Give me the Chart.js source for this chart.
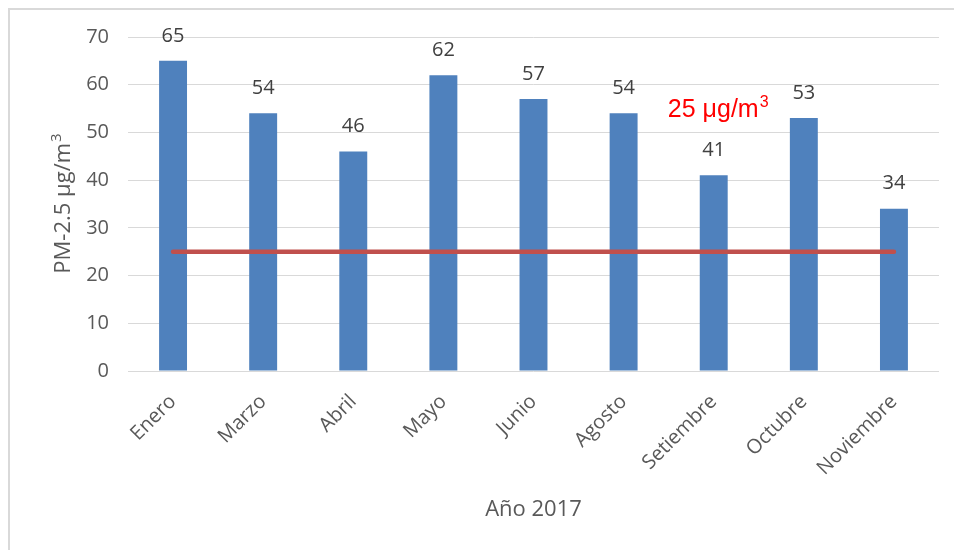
<!DOCTYPE html>
<html>
<head>
<meta charset="utf-8">
<script src="https://cdn.jsdelivr.net/npm/chart.js@4.4.1/dist/chart.umd.min.js"></script>
<style>
  html, body { margin: 0; padding: 0; background: #ffffff; }
  #wrap { width: 954px; height: 550px; position: relative; }
</style>
</head>
<body>
<div id="wrap"><canvas id="c" width="954" height="550"></canvas></div>
<script>
// Monthly PM-2.5 readings, 2017
const months = ['Enero', 'Marzo', 'Abril', 'Mayo', 'Junio', 'Agosto', 'Setiembre', 'Octubre', 'Noviembre'];
const pm25 = [65, 54, 46, 62, 57, 54, 41, 53, 34];
// Reference limit line
const limitValue = 25;
const limitSeries = months.map(() => limitValue);
const limitLabel = ['25 μg/m', '3'];
const limitLabelAnchor = { category: 'Setiembre', value: 55 };
const yTitle = ['PM-2.5 μg/m', '3'];
const xTitle = 'Año 2017';
const yTicks = { min: 0, max: 70, step: 10 };

const tickFont = { family: 'Open Sans', size: 20 };
const textColor = '#595959';

// Draws "base" followed by a raised "sup", centred on (0, 0) of the current transform
function drawWithSup(ctx, base, sup, font, supFont, rise) {
  ctx.font = font;
  const wb = ctx.measureText(base).width;
  ctx.font = supFont;
  const ws = ctx.measureText(sup).width;
  const start = -(wb + ws) / 2;
  ctx.textAlign = 'left';
  ctx.textBaseline = 'alphabetic';
  ctx.font = font;
  ctx.fillText(base, start, 0);
  ctx.font = supFont;
  ctx.fillText(sup, start + wb + 1, -rise);
}

// Light frame around the figure
const framePlugin = {
  id: 'frame',
  beforeDraw(chart) {
    const ctx = chart.ctx;
    ctx.save();
    ctx.fillStyle = '#ffffff';
    ctx.fillRect(0, 0, chart.width, chart.height);
    ctx.strokeStyle = '#D9D9D9';
    ctx.lineWidth = 2;
    ctx.beginPath();
    ctx.moveTo(9, chart.height);
    ctx.lineTo(9, 9);
    ctx.lineTo(chart.width, 9);
    ctx.stroke();
    ctx.restore();
  }
};

// Value labels above each bar, the limit annotation and the y-axis title
const labelPlugin = {
  id: 'valueLabels',
  afterDatasetsDraw(chart) {
    const ctx = chart.ctx;
    const xs = chart.scales.x, ys = chart.scales.y;
    ctx.save();
    const meta = chart.getDatasetMeta(1);
    ctx.font = '20px "Open Sans"';
    ctx.fillStyle = '#404040';
    ctx.textAlign = 'center';
    ctx.textBaseline = 'middle';
    meta.data.forEach((el, i) => {
      ctx.fillText(String(pm25[i]), el.x, el.y - 25);
    });

    // limit annotation
    ctx.save();
    ctx.fillStyle = '#FF0000';
    ctx.translate(xs.getPixelForValue(months.indexOf(limitLabelAnchor.category)) + 4,
                  ys.getPixelForValue(limitLabelAnchor.value) + 8);
    drawWithSup(ctx, limitLabel[0], limitLabel[1], '25px "Liberation Sans"', '16px "Liberation Sans"', 10);
    ctx.restore();

    // y-axis title
    ctx.save();
    ctx.fillStyle = textColor;
    ctx.translate(70, (chart.chartArea.top + chart.chartArea.bottom) / 2);
    ctx.rotate(-Math.PI / 2);
    drawWithSup(ctx, yTitle[0], yTitle[1], '22px "Open Sans"', '15px "Open Sans"', 9);
    ctx.restore();
    ctx.restore();
  }
};

new Chart(document.getElementById('c'), {
  data: {
    labels: months,
    datasets: [
      {
        type: 'line',
        data: limitSeries,
        borderColor: '#C0504D',
        borderWidth: 4.5,
        borderCapStyle: 'round',
        pointRadius: 0,
        order: 0
      },
      {
        type: 'bar',
        data: pm25,
        backgroundColor: '#4F81BD',
        barPercentage: 0.31,
        categoryPercentage: 1,
        order: 1
      }
    ]
  },
  options: {
    responsive: false,
    animation: false,
    events: [],
    layout: { padding: { top: 37, right: 15, bottom: 0, left: 0 } },
    plugins: { legend: { display: false }, tooltip: { enabled: false } },
    scales: {
      x: {
        grid: { display: false, drawTicks: false },
        border: { display: false },
        ticks: {
          font: tickFont, color: textColor,
          minRotation: 45, maxRotation: 45, padding: 19
        },
        title: {
          display: true, text: xTitle,
          font: { family: 'Open Sans', size: 22 }, color: textColor,
          padding: { top: 0, bottom: 27 }
        },
        afterFit(scale) { scale.height = 179; }
      },
      y: {
        min: yTicks.min, max: yTicks.max,
        grid: { color: '#D9D9D9', lineWidth: 1, drawTicks: false },
        border: { display: false },
        ticks: {
          stepSize: yTicks.step,
          font: tickFont, color: textColor, padding: 19
        },
        afterFit(scale) { scale.width = 128; }
      }
    }
  },
  plugins: [framePlugin, labelPlugin]
});
</script>
</body>
</html>
